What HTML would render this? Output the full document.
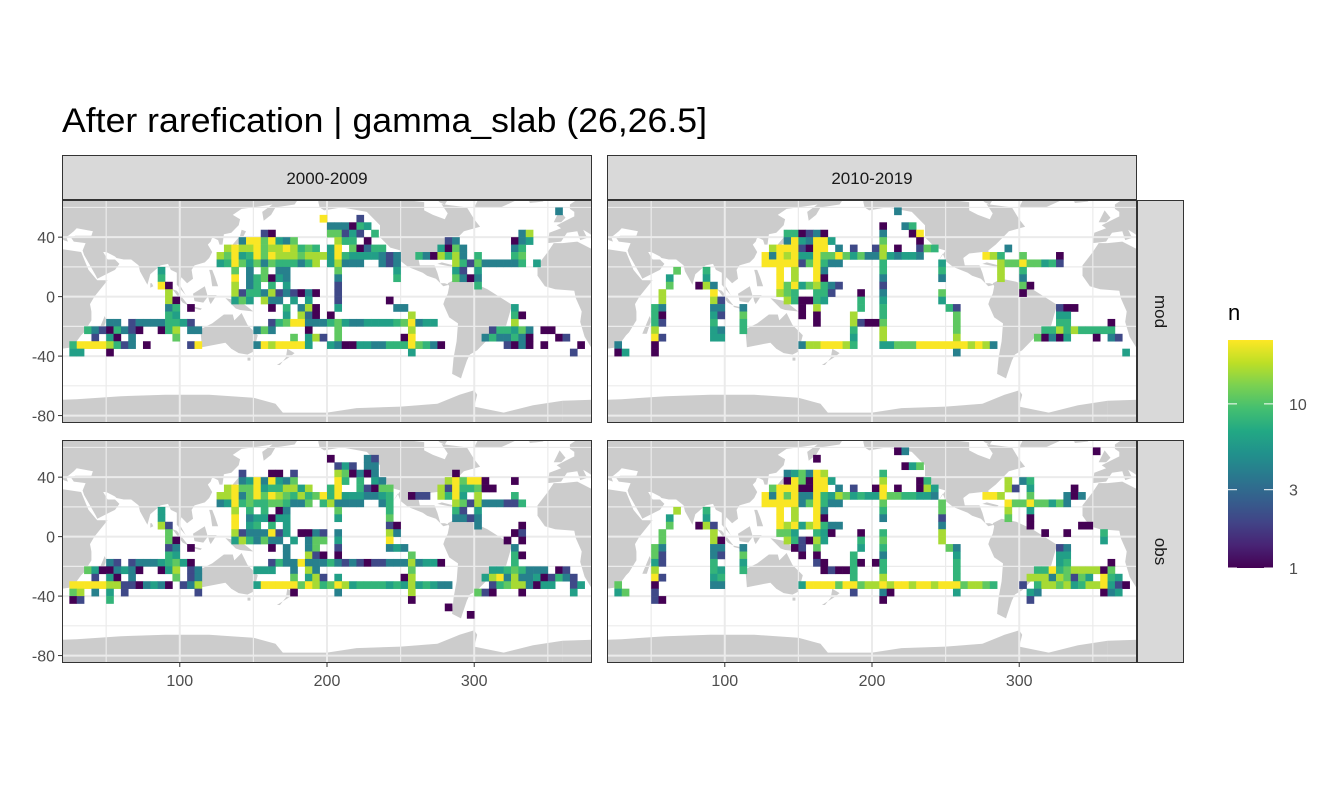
<!DOCTYPE html>
<html><head><meta charset="utf-8">
<style>
html,body{margin:0;padding:0;background:#fff;}
svg{display:block;font-family:"Liberation Sans",sans-serif;}
</style></head>
<body>
<svg id="chart" width="1344" height="806" viewBox="0 0 1344 806" xmlns="http://www.w3.org/2000/svg">
<text x="62" y="132" font-size="34" textLength="645" lengthAdjust="spacingAndGlyphs" fill="#000">After rarefication | gamma_slab (26,26.5]</text>
<g id="panels"></g>
<g id="legend">
<text x="1228" y="320" font-size="22" fill="#000">n</text>
<defs><linearGradient id="vir" x1="0" y1="1" x2="0" y2="0">
<stop offset="0" stop-color="#440154"/><stop offset="0.1" stop-color="#482475"/><stop offset="0.2" stop-color="#414487"/><stop offset="0.3" stop-color="#355f8d"/><stop offset="0.4" stop-color="#2a788e"/><stop offset="0.5" stop-color="#21918c"/><stop offset="0.6" stop-color="#22a884"/><stop offset="0.7" stop-color="#44bf70"/><stop offset="0.8" stop-color="#7ad151"/><stop offset="0.9" stop-color="#bddf26"/><stop offset="1" stop-color="#fde725"/>
</linearGradient></defs>
<rect x="1228" y="340" width="45" height="228" fill="url(#vir)"/>
<g id="legticks"></g>
</g>
</svg>
<script>
const levelN=[0,1,2,3,4,6,8,11,16,24];
const nMax=24.5;
const xTicks=[100,200,300];
const yTicks=[40,0,-40,-80];
const legendTicks=[1,3,10];
const colLabels=["2000-2009","2010-2019"];
const rowLabels=["mod","obs"];

const modA=[
[1,"67:4"],[2,"35:9 40:2"],[3,"36:4 37:4 38:4 39:1 40:6 41:5"],
[4,"27:2 28:1 36:7 37:7 38:2 39:5 40:2 42:6 62:4 63:8"],
[5,"24:4 25:9 26:9 27:7 28:9 29:5 30:4 31:7 37:8 38:6 39:6 41:1 52:2 53:4 61:1 62:4 63:5"],
[6,"22:8 23:9 24:8 25:8 26:9 27:7 28:8 29:8 30:9 31:8 32:6 33:7 34:6 36:5 37:9 39:7 40:1 41:3 42:6 43:6 51:5 52:1 53:7 54:4 61:4 62:6"],
[7,"21:8 22:7 23:9 24:5 25:6 26:9 27:7 28:9 29:8 30:8 31:8 32:7 33:8 34:8 35:8 36:5 37:9 38:6 39:5 40:5 41:5 42:5 43:4 44:2 45:4 48:6 49:4 50:1 51:8 52:6 53:8 54:4 56:6 61:6 62:7"],
[8,"21:5 22:6 23:9 24:7 25:5 26:7 27:4 28:7 29:6 30:6 31:6 32:4 33:6 34:8 36:5 37:8 38:4 39:4 40:4 43:4 44:2 45:4 53:8 54:6 55:2 56:7 57:4 58:4 59:4 60:4 61:4 62:6 64:5"],
[9,"13:5 23:7 25:4 27:7 29:4 30:4 37:7 45:5 53:5 54:2 56:5"],
[10,"13:6 23:9 25:4 26:6 27:7 28:1 29:5 30:4 37:4 45:6 53:7 54:4 55:1 56:4"],
[11,"13:9 14:1 23:8 25:4 26:6 28:6 30:5 37:2 56:6"],
[12,"14:8 23:8 24:2 25:6 26:6 27:4 28:8 29:2 30:4 31:2 32:1 33:4 34:1 37:2"],
[13,"14:8 15:1 23:5 24:7 25:5 27:8 28:4 29:4 31:5 33:5 37:2 44:1"],
[14,"14:4 15:6 17:1 28:1 30:6 32:4 33:8 34:1 37:5 45:4 46:4 61:5"],
[15,"14:6 15:5 30:5 32:8 33:3 34:1 36:1 47:8 61:6 62:1"],
[16,"6:4 7:4 9:2 10:4 11:4 12:4 13:4 14:6 15:6 16:5 17:2 28:2 29:6 30:7 31:9 32:9 33:4 34:4 35:4 36:6 37:7 38:5 39:4 40:4 41:5 42:5 43:5 44:5 45:6 46:7 47:9 48:4 49:5 50:5 61:8"],
[17,"3:6 4:4 5:2 6:1 7:6 8:4 9:2 10:1 13:1 14:6 15:8 17:4 18:4 26:4 27:7 28:4 33:1 37:7 47:8 58:2 59:6 60:6 61:5 62:7 63:4 65:1 66:1"],
[18,"4:2 6:5 7:1 9:4 15:7 31:7 33:5 34:8 35:2 37:7 46:1 47:9 57:4 58:6 59:4 60:4 61:6 62:4 63:1 67:1 68:2"],
[19,"1:6 2:9 3:9 4:9 5:9 6:8 7:6 8:2 9:4 11:1 17:2 18:9 26:4 27:9 28:8 29:9 30:9 31:9 32:9 33:5 36:5 37:4 38:1 39:1 40:5 41:5 42:4 43:4 44:6 45:6 46:6 47:9 48:7 49:6 50:4 51:1 60:2 61:1 62:4 63:1 65:1 70:1"],
[20,"1:5 2:5 6:1 47:5 69:2"]
];
const modB=[
[1,"39:4"],[3,"37:1 40:4 41:6"],
[4,"24:6 25:6 26:1 27:2 28:4 29:1 37:4 41:1 42:9"],
[5,"24:4 25:9 26:5 27:4 28:9 29:9 30:5 37:7 42:1"],
[6,"22:8 23:9 24:9 25:9 26:2 27:1 28:9 29:9 31:4 33:2 36:2 37:8 39:1 42:2 43:7 44:6 54:4"],
[7,"21:9 22:4 23:9 24:8 25:9 26:5 27:5 28:9 29:7 30:7 31:9 32:7 33:5 34:7 35:4 36:4 37:8 38:5 39:4 40:5 41:5 42:4 51:9 52:8 53:6 56:7 61:1"],
[8,"21:9 22:9 23:9 24:9 25:9 26:2 27:7 28:9 29:6 30:4 31:4 37:6 45:5 53:8 54:7 55:7 56:9 57:7 58:7 59:5 60:6 61:2"],
[9,"9:7 13:6 23:9 25:8 28:9 29:4 37:6 45:6 53:8 56:6"],
[10,"8:5 13:5 23:9 25:8 28:9 29:1 37:4 45:4 53:8 56:4"],
[11,"8:7 12:1 13:8 14:4 23:9 24:7 25:9 26:5 27:7 28:8 29:6 30:4 31:2 37:2 56:7 57:1"],
[12,"7:8 14:9 23:8 24:7 25:6 28:6 29:6 30:2 34:1 37:4 45:7 56:1"],
[13,"7:8 14:8 15:2 24:8 25:6 26:1 27:1 28:6 29:5 34:6 37:5 45:5"],
[14,"6:6 7:4 14:4 15:4 18:4 26:1 28:8 34:6 37:6 46:6 47:2 61:2 62:1 63:1"],
[15,"6:6 7:1 14:5 15:2 18:7 26:1 28:1 33:8 37:6 47:7 61:5 62:5"],
[16,"6:6 7:2 14:6 18:6 28:1 33:8 34:2 35:1 36:1 37:7 47:7 61:6 62:6 68:1"],
[17,"6:8 14:5 15:4 18:6 33:6 37:8 47:7 59:6 60:6 61:8 62:6 63:8 64:6 65:6 66:6 67:6 68:6"],
[18,"6:9 7:2 14:5 15:5 33:5 37:8 47:8 58:7 59:1 60:4 61:1 62:5 66:1 68:4 69:2"],
[19,"1:4 6:1 26:4 27:8 28:8 29:9 30:9 31:9 32:8 33:6 37:5 38:5 39:7 40:7 41:7 42:9 43:9 44:9 45:9 46:9 47:9 48:9 49:8 50:9 51:8 52:4"],
[20,"1:1 2:5 6:1 47:4 70:5"]
];
const obsA=[
[2,"36:1 41:4 42:2"],[3,"37:2 38:5 39:2 41:4 42:4"],
[4,"24:2 28:1 29:1 31:2 37:8 38:7 39:1 40:4 41:1 42:4 53:1"],
[5,"24:4 25:5 26:9 27:4 28:9 29:5 30:4 31:7 37:9 38:6 40:6 42:5 43:4 52:8 53:9 54:7 55:9 56:9 57:1 61:1"],
[6,"22:8 23:9 24:7 25:7 26:9 27:5 28:6 29:6 30:8 31:8 32:5 33:8 36:6 37:9 40:6 41:2 42:1 43:7 44:7 51:8 52:2 53:9 54:6 55:6 56:7 57:1 58:1"],
[7,"21:8 22:8 23:9 24:4 25:7 26:9 27:7 28:9 29:8 30:7 31:6 32:8 33:6 34:7 35:9 36:6 37:9 38:5 39:5 40:5 41:4 42:4 43:5 44:6 47:1 48:2 49:2 51:8 52:6 53:9 54:5 56:8 61:6"],
[8,"21:4 22:5 23:9 24:6 25:7 26:6 27:6 28:7 29:7 30:6 31:4 32:4 33:7 35:6 36:8 37:4 38:4 39:4 40:4 43:4 44:6 53:8 54:7 55:2 56:8 57:4 58:4 59:4 60:2 61:2 62:6"],
[9,"13:5 23:8 25:6 27:6 29:1 30:4 37:7 44:6 53:6 54:2 56:5"],
[10,"13:5 23:9 25:4 26:5 27:5 28:1 29:5 30:5 37:5 44:7 53:4 54:4 55:2 56:4"],
[11,"13:8 14:2 23:9 25:5 26:6 28:6 30:5 44:2 45:1 56:4 62:1"],
[12,"14:7 23:8 24:2 25:4 26:4 27:4 28:9 29:2 30:5 32:1 33:1 34:4 35:2 37:4 44:8 45:4 61:1 62:2"],
[13,"14:7 15:1 23:5 24:8 25:6 26:4 27:7 28:4 29:4 31:5 33:4 34:7 35:7 37:5 44:9 60:1 62:1"],
[14,"14:2 15:4 17:1 28:1 30:4 33:4 34:7 37:2 44:4 45:5 46:4 61:4"],
[15,"14:6 15:5 30:4 33:8 34:2 35:1 37:1 47:7 61:6 62:1"],
[16,"6:4 7:2 9:2 10:4 11:4 12:4 13:5 14:6 15:7 16:5 17:1 28:2 29:6 30:4 31:4 32:9 33:4 34:4 35:4 36:6 37:4 38:2 39:4 40:2 41:1 42:2 43:2 44:4 45:4 46:4 47:8 48:4 49:5 50:5 51:1 61:6"],
[17,"3:7 4:5 5:1 6:1 7:4 8:5 9:4 10:1 13:1 14:5 15:8 17:2 18:4 26:5 27:5 28:5 31:4 33:8 34:4 47:7 58:5 59:5 60:6 61:7 62:6 63:4 64:4 65:4 67:1 68:2"],
[18,"4:2 6:5 7:1 9:4 15:7 17:2 18:4 31:7 33:5 34:8 35:2 37:5 46:1 47:8 57:5 58:8 59:9 60:4 61:8 62:4 63:4 64:5 65:1 66:2 67:6 68:4 69:2"],
[19,"1:9 2:9 3:9 4:9 5:9 6:8 7:8 8:2 9:2 10:1 11:4 12:5 13:4 14:1 16:2 17:4 18:8 26:5 27:9 28:9 29:9 30:9 31:9 32:7 33:9 34:8 35:6 36:7 37:9 38:8 39:5 40:6 41:6 42:6 43:6 44:5 45:6 46:5 47:8 48:5 49:6 50:5 51:4 52:4 58:2 59:6 60:7 61:8 62:8 63:4 64:1 65:5 66:5 69:2 70:5"],
[20,"1:7 2:8 4:4 6:5 8:2 18:2 31:1 37:4 47:8 56:7 57:2 58:1 62:1 69:5"],
[21,"1:1 2:2 6:6 47:1"],[22,"52:1"],[23,"55:1"]
];
const obsB=[
[1,"39:1 40:4 66:1"],[2,"28:1"],[3,"40:1 41:5 42:7"],
[4,"24:4 25:5 26:7 27:4 28:9 29:8 37:6"],
[5,"24:1 25:9 26:7 27:1 28:9 29:9 30:5 37:8 42:1 43:6 54:8 56:4 57:6"],
[6,"22:7 23:9 24:9 25:9 26:1 27:1 28:9 29:9 31:4 33:2 36:1 37:9 39:1 42:1 43:8 44:5 54:8 55:2 57:5 63:1"],
[7,"21:9 22:4 23:9 24:7 25:9 26:4 27:4 28:9 29:6 30:5 31:8 32:7 33:5 34:6 35:5 36:5 37:9 38:7 39:7 40:6 41:6 42:5 43:5 44:4 51:9 52:9 53:8 57:7 62:4 63:1 64:4"],
[8,"21:9 22:9 23:9 24:9 25:9 26:4 27:7 28:9 29:6 30:4 31:4 37:7 45:7 54:9 55:7 56:7 57:9 58:7 59:7 60:5 61:7 62:4"],
[9,"9:8 13:6 23:9 25:8 28:9 29:4 37:6 45:7 54:8 57:5"],
[10,"8:5 13:5 23:9 25:8 28:9 29:1 37:4 45:2 54:7 57:1"],
[11,"8:7 12:1 13:8 14:2 23:9 24:8 25:9 26:5 27:8 28:9 29:6 30:4 31:4 45:4 57:1 64:1 65:1"],
[12,"7:7 14:8 23:7 24:7 25:5 28:6 29:5 30:1 34:1 37:6 45:8 59:1 62:1 67:6"],
[13,"7:7 14:8 15:1 24:8 25:6 26:2 27:1 28:8 29:5 34:6 37:7 45:8 67:5"],
[14,"6:7 7:4 14:4 15:4 18:4 25:1 26:2 28:7 34:5 37:6 46:7 47:4 61:2 62:4"],
[15,"6:7 7:2 14:4 15:2 18:7 26:1 28:1 33:6 37:4 47:5 61:5 62:5"],
[16,"6:5 7:2 14:6 18:5 28:2 29:1 33:6 34:1 36:1 37:6 47:6 61:5 62:6 68:1"],
[17,"6:8 14:6 15:5 18:6 29:1 30:2 31:1 32:1 33:6 37:6 47:6 58:6 59:6 60:9 61:6 62:7 63:8 64:8 65:8 66:8 67:1 68:7"],
[18,"6:9 7:2 14:5 15:6 33:6 37:8 47:6 57:8 58:8 59:8 60:4 61:8 62:7 63:2 64:7 65:5 67:9 68:6 69:5"],
[19,"1:7 6:1 14:4 15:4 26:5 27:9 28:9 29:9 30:9 31:7 32:9 33:9 34:7 35:8 36:8 37:9 38:8 39:9 40:9 41:8 42:9 43:9 44:8 45:9 46:9 47:9 48:7 49:8 50:8 51:7 52:6 56:2 58:6 59:8 60:8 61:7 62:8 63:5 64:6 65:8 66:8 67:9 68:5 69:2 70:1"],
[20,"1:5 2:7 6:2 33:2 37:4 38:1 47:5 57:5 58:4 67:1 68:4 69:5"],
[21,"6:2 7:1 37:1 57:2"]
];

/* rough coastlines (lon, lat) */
const land=[
[[-10,36],[-9,43],[-1,46],[-4,48],[2,51],[8,54],[8,57],[5,59],[5,62],[14,68],[25,71],[40,68],[60,69],[80,73],[100,78],[130,72],[160,70],[180,68],[190,66],[180,65],[178,62],[165,60],[162,55],[157,51],[156,57],[163,62],[150,60],[142,59],[136,55],[141,52],[140,48],[135,43],[130,42],[129,35],[127,35],[126,38],[122,40],[121,37],[119,35],[122,30],[120,26],[117,23],[110,21],[108,18],[109,12],[105,9],[101,13],[100,8],[104,1],[98,8],[98,16],[94,18],[92,22],[87,21],[80,15],[78,8],[73,17],[72,21],[67,25],[62,25],[57,26],[56,27],[50,30],[48,30],[51,25],[56,25],[59,22],[56,18],[52,16],[44,12],[43,14],[35,28],[34,31],[36,36],[28,37],[26,40],[29,41],[40,41],[41,44],[30,46],[28,44],[23,40],[24,37],[21,38],[19,42],[14,45],[16,41],[18,40],[12,38],[10,44],[3,43],[-1,37]],
[[-6,36],[-10,30],[-17,21],[-17,14],[-12,7],[-5,5],[8,4],[9,-1],[13,-10],[12,-17],[15,-27],[20,-35],[27,-34],[33,-26],[35,-24],[40,-16],[40,-10],[39,-5],[42,0],[51,11],[44,11],[43,12],[38,18],[33,30],[20,32],[10,37],[0,36]],
[[44,-25],[49,-13],[50,-16],[47,-25]],
[[80,6],[82,7],[81,9],[80,9]],
[[114,-22],[122,-18],[130,-12],[136,-12],[137,-16],[142,-11],[146,-19],[153,-26],[150,-37],[146,-39],[140,-38],[135,-35],[131,-31],[115,-34]],
[[146,-41],[148,-41],[148,-43],[146,-43]],
[[109,2],[117,7],[119,0],[116,-4],[110,-3]],
[[95,5],[98,4],[106,-6],[102,-4]],
[[106,-6],[115,-8],[114,-9],[106,-7]],
[[119,1],[125,1],[121,-5],[120,-3]],
[[131,-1],[141,-3],[150,-10],[141,-9],[138,-8]],
[[120,18],[122,18],[124,13],[126,7],[122,7],[121,14]],
[[130,31],[135,34],[141,41],[142,45],[145,44],[141,36],[136,34]],
[[166,-46],[174,-41],[178,-38],[173,-35],[172,-41],[168,-46]],
[[192,66],[200,71],[235,69],[265,68],[280,62],[285,70],[300,72],[300,80],[200,80],[190,72],[192,66]],
[[295,60],[300,52],[304,47],[293,44],[290,41],[284,35],[279,31],[280,26],[277,28],[277,30],[275,30],[266,29],[262,26],[263,21],[269,21],[273,21],[275,16],[277,9],[280,9],[283,8],[279,7],[276,10],[274,12],[268,14],[265,16],[255,20],[250,24],[248,29],[245,24],[250,31],[243,33],[236,40],[236,48],[227,57],[210,60],[198,58],[195,60],[194,64],[200,71],[280,62]],
[[275,22],[285,20],[286,21],[278,23]],
[[300,60],[318,60],[340,70],[340,83],[300,83],[290,78],[305,70]],
[[337,64],[345,66],[347,64],[338,63]],
[[354,50],[358,58],[362,53],[359,50]],
[[282,9],[288,12],[298,10],[309,5],[325,-5],[325,-8],[321,-22],[312,-26],[302,-36],[297,-39],[295,-43],[292,-52],[291,-55],[285,-52],[286,-41],[288,-30],[289,-18],[283,-14],[279,-5],[280,-2],[282,2],[283,7]],
[[0,-70],[30,-69],[60,-67],[90,-66],[120,-66],[150,-68],[165,-72],[170,-78],[200,-78],[220,-75],[250,-74],[275,-72],[290,-66],[300,-63],[302,-66],[300,-74],[320,-78],[340,-73],[360,-70],[360,-90],[0,-90]]
];
const water=[[[266,58],[272,55],[280,52],[282,56],[278,62],[275,65],[266,65]]];

const NS="http://www.w3.org/2000/svg";
const panelsG=document.getElementById('panels');
const PW=530, PH=223;
const colX=[62,607], rowY=[200,440];
const sx=PW/360, sy=PH/150;
function mk(tag,attrs,parent){const e=document.createElementNS(NS,tag);for(const k in attrs)e.setAttribute(k,attrs[k]);parent.appendChild(e);return e;}
const vstops=["#440154","#482475","#414487","#355f8d","#2a788e","#21918c","#22a884","#44bf70","#7ad151","#bddf26","#fde725"];
function hex(h){return [parseInt(h.slice(1,3),16),parseInt(h.slice(3,5),16),parseInt(h.slice(5,7),16)];}
function viridis(t){t=Math.max(0,Math.min(1,t));const p=t*10,i=Math.min(9,Math.floor(p)),f=p-i;const a=hex(vstops[i]),b=hex(vstops[i+1]);return 'rgb('+a.map((v,k)=>Math.round(v+(b[k]-v)*f)).join(',')+')';}
function colorN(n){return viridis(Math.log(n)/Math.log(nMax));}

const data=[[modA,modB],[obsA,obsB]];
for(let r=0;r<2;r++)for(let c=0;c<2;c++){
  const px=colX[c],py=rowY[r];
  const X=lon=>px+(lon-20)*sx, Y=lat=>py+(65-lat)*sy;
  const g=mk('g',{},panelsG);
  
  
  const cp=mk('clipPath',{id:'cp'+r+c},g);
  mk('rect',{x:px,y:py,width:PW,height:PH},cp);
  const inner=mk('g',{'clip-path':'url(#cp'+r+c+')'},g);
  mk('rect',{x:px,y:py,width:PW,height:PH,fill:'#fff'},inner);
  const lg=mk('g',{},inner);
  
  
  [0,360].forEach(off=>{
    land.forEach(poly=>{mk('polygon',{points:poly.map(p=>X(p[0]+off).toFixed(1)+','+Y(p[1]).toFixed(1)).join(' '),fill:'#cccccc'},lg);});
    water.forEach(poly=>{mk('polygon',{points:poly.map(p=>X(p[0]+off).toFixed(1)+','+Y(p[1]).toFixed(1)).join(' '),fill:'#fff'},lg);});
  });
  [50,150,250,350].forEach(v=>mk('line',{x1:X(v),x2:X(v),y1:py,y2:py+PH,stroke:'#ebebeb','stroke-width':1.2},inner));
  [60,20,-20,-60].forEach(v=>mk('line',{x1:px,x2:px+PW,y1:Y(v),y2:Y(v),stroke:'#ebebeb','stroke-width':1.2},inner));
  xTicks.forEach(v=>mk('line',{x1:X(v),x2:X(v),y1:py,y2:py+PH,stroke:'#ebebeb','stroke-width':2},inner));
  yTicks.forEach(v=>mk('line',{x1:px,x2:px+PW,y1:Y(v),y2:Y(v),stroke:'#ebebeb','stroke-width':2},inner));
  const tg=mk('g',{},inner);
  
  
  data[r][c].forEach(row=>{
    const ri=row[0];
    row[1].split(' ').forEach(s=>{
      const [ci,code]=s.split(':').map(Number);
      const lon=20+5*ci, latTop=65-5*ri;
      const n=levelN[code];
      const rc=mk('rect',{x:X(lon).toFixed(2),y:Y(latTop).toFixed(2),width:(5*sx+0.3).toFixed(2),height:(5*sy+0.3).toFixed(2),fill:colorN(n)},tg);
      
      
    });
  });
  mk('rect',{x:px+0.5,y:py+0.5,width:PW-1,height:PH-1,fill:'none',stroke:'#333','stroke-width':1},g);
  if(c===0){
    yTicks.forEach(v=>{
      mk('line',{x1:px-4,x2:px,y1:Y(v),y2:Y(v),stroke:'#333','stroke-width':1},g);
      const t=mk('text',{x:px-7,y:Y(v)+6,'text-anchor':'end','font-size':16,fill:'#4d4d4d'},g);
      t.textContent=v;
      
      
    });
  }
  if(r===1){
    xTicks.forEach(v=>{
      mk('line',{x1:X(v),x2:X(v),y1:py+PH,y2:py+PH+4,stroke:'#333','stroke-width':1},g);
      const t=mk('text',{x:X(v),y:py+PH+23,'text-anchor':'middle','font-size':16,fill:'#4d4d4d'},g);
      t.textContent=v;
      
      
    });
  }
}
colLabels.forEach((lab,c)=>{
  const g=mk('g',{},panelsG);
  
  
  mk('rect',{x:colX[c]+0.5,y:155.5,width:PW-1,height:44,fill:'#d9d9d9',stroke:'#333','stroke-width':1},g);
  const t=mk('text',{x:colX[c]+PW/2,y:184,'text-anchor':'middle','font-size':17,fill:'#1a1a1a'},g);
  t.textContent=lab;
});
rowLabels.forEach((lab,r)=>{
  const g=mk('g',{},panelsG);
  
  
  mk('rect',{x:1137.5,y:rowY[r]+0.5,width:46,height:PH-1,fill:'#d9d9d9',stroke:'#333','stroke-width':1},g);
  const cx=1155,cy=rowY[r]+PH/2;
  const t=mk('text',{x:cx,y:cy,'text-anchor':'middle','font-size':17,fill:'#1a1a1a',transform:'rotate(90 '+cx+' '+cy+')'},g);
  t.textContent=lab;
});
const lt=document.getElementById('legticks');
legendTicks.forEach(v=>{
  const y=568-228*Math.log(v)/Math.log(nMax);
  mk('line',{x1:1228,x2:1237,y1:y,y2:y,stroke:'#fff','stroke-width':1},lt);
  mk('line',{x1:1264,x2:1273,y1:y,y2:y,stroke:'#fff','stroke-width':1},lt);
  const t=mk('text',{x:1289,y:y+6,'font-size':16,fill:'#4d4d4d'},lt);
  t.textContent=v;
  
  
});
</script>
</body></html>
